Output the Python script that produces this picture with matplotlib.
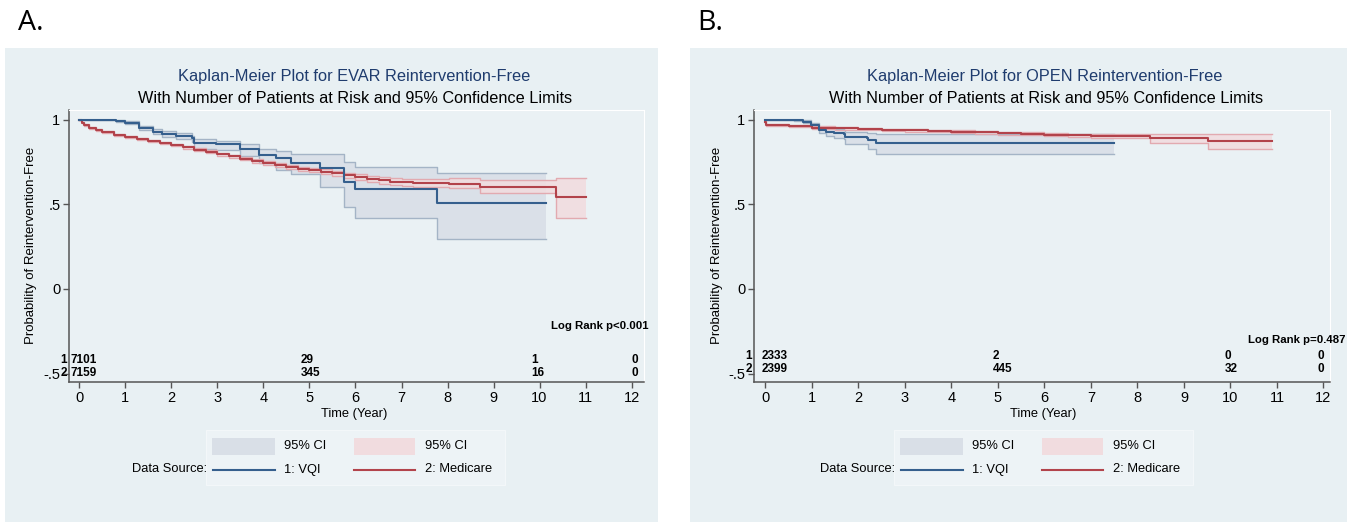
import matplotlib.pyplot as plt
from matplotlib.patches import Rectangle
from matplotlib.lines import Line2D

plt.rcParams['font.family'] = ['Liberation Sans', 'DejaVu Sans']

W, H = 1355, 523

# ---- Panel A: EVAR ----
evar_vqi_t = [0, 0.8, 1.0, 1.3, 1.6, 1.8, 2.1, 2.45, 2.5, 2.97, 3.48, 3.91, 4.28, 4.6, 5.22, 5.76, 5.98, 7.77, 10.15]
evar_vqi_s = [1.0, 0.995, 0.985, 0.951, 0.93, 0.917, 0.905, 0.892, 0.862, 0.857, 0.826, 0.793, 0.773, 0.747, 0.714, 0.635, 0.590, 0.507, 0.507]
evar_vqi_hi = [1.0, 1.0, 0.995, 0.962, 0.945, 0.932, 0.92, 0.905, 0.885, 0.878, 0.855, 0.826, 0.815, 0.80, 0.80, 0.753, 0.724, 0.685, 0.685]
evar_vqi_lo = [1.0, 0.99, 0.975, 0.94, 0.915, 0.90, 0.885, 0.87, 0.826, 0.82, 0.785, 0.745, 0.705, 0.68, 0.605, 0.487, 0.422, 0.296, 0.296]

evar_med_t = [0, 0.05, 0.1, 0.2, 0.35, 0.5, 0.75, 1.0, 1.25, 1.5, 1.75, 2.0, 2.25, 2.5, 2.75, 3.0, 3.25, 3.5,
              3.75, 4.0, 4.25, 4.5, 4.75, 5.0, 5.25, 5.5, 5.75, 6.0, 6.25, 6.5, 6.75, 7.0, 7.25, 8.04, 8.7, 10.36, 11.0]
evar_med_s = [1.0, 0.985, 0.972, 0.955, 0.94, 0.931, 0.912, 0.90, 0.89, 0.877, 0.864, 0.851, 0.838, 0.825, 0.812, 0.798, 0.785, 0.771,
              0.757, 0.745, 0.734, 0.722, 0.711, 0.703, 0.695, 0.685, 0.672, 0.661, 0.652, 0.643, 0.635, 0.632, 0.628, 0.619, 0.605, 0.546, 0.546]
evar_med_hi = [1.0, 0.99, 0.978, 0.961, 0.946, 0.937, 0.918, 0.906, 0.896, 0.884, 0.871, 0.858, 0.845, 0.833, 0.820, 0.807, 0.794, 0.780,
               0.767, 0.755, 0.745, 0.734, 0.723, 0.716, 0.709, 0.700, 0.688, 0.678, 0.670, 0.662, 0.655, 0.653, 0.650, 0.655, 0.646, 0.655, 0.655]
evar_med_lo = [1.0, 0.98, 0.966, 0.949, 0.934, 0.925, 0.906, 0.894, 0.884, 0.870, 0.857, 0.844, 0.831, 0.817, 0.804, 0.789, 0.776, 0.762,
               0.747, 0.735, 0.723, 0.710, 0.699, 0.690, 0.681, 0.670, 0.656, 0.644, 0.634, 0.624, 0.615, 0.611, 0.606, 0.595, 0.566, 0.418, 0.418]

# ---- Panel B: OPEN ----
open_vqi_t = [0, 0.61, 0.8, 0.97, 1.15, 1.3, 1.47, 1.69, 1.72, 2.18, 2.2, 2.37, 7.5]
open_vqi_s = [1.0, 0.998, 0.99, 0.97, 0.941, 0.93, 0.921, 0.915, 0.90, 0.895, 0.882, 0.862, 0.862]
open_vqi_hi = [1.0, 1.0, 0.998, 0.985, 0.96, 0.952, 0.945, 0.94, 0.93, 0.925, 0.92, 0.915, 0.915]
open_vqi_lo = [1.0, 0.995, 0.98, 0.955, 0.92, 0.905, 0.895, 0.888, 0.86, 0.855, 0.827, 0.797, 0.797]

open_med_t = [0, 0.02, 0.15, 0.5, 1.0, 1.5, 2.0, 2.5, 3.0, 3.5, 4.0, 4.5, 5.0, 5.5, 6.0, 6.5, 7.0, 7.47, 8.26, 9.51, 10.9]
open_med_s = [0.99, 0.972, 0.968, 0.963, 0.955, 0.95, 0.945, 0.941, 0.938, 0.934, 0.93, 0.926, 0.922, 0.918, 0.913, 0.909, 0.906, 0.905, 0.892, 0.878, 0.878]
open_med_hi = [0.995, 0.978, 0.974, 0.969, 0.962, 0.957, 0.952, 0.948, 0.945, 0.942, 0.938, 0.934, 0.931, 0.927, 0.922, 0.919, 0.916, 0.915, 0.917, 0.917, 0.917]
open_med_lo = [0.985, 0.966, 0.962, 0.957, 0.948, 0.943, 0.938, 0.934, 0.931, 0.926, 0.922, 0.918, 0.913, 0.909, 0.904, 0.899, 0.895, 0.893, 0.866, 0.827, 0.827]

risk_times = [0, 5, 10, 12]
evar_risk_vqi = [7101, 29, 1, 0]
evar_risk_med = [7159, 345, 16, 0]
open_risk_vqi = [2333, 2, 0, 0]
open_risk_med = [2399, 445, 32, 0]

titles = ["Kaplan-Meier Plot for EVAR Reintervention-Free", "Kaplan-Meier Plot for OPEN Reintervention-Free"]
subtitle = "With Number of Patients at Risk and 95% Confidence Limits"
logranks = ["Log Rank p<0.001", "Log Rank p=0.487"]
letters = ["A.", "B."]

BG = '#e8f0f3'
PLOT_BG = '#eaf1f4'
BLUE = '#355f8d'
BLUE_FILL = '#d9dfe7'
BLUE_EDGE = '#a4b4c6'
RED = '#b2434b'
RED_FILL = '#f1dcdf'
RED_EDGE = '#e2aab0'


def fx(x):
    return x / W


def fy(y):
    return 1 - y / H


fig = plt.figure(figsize=(W / 100, H / 100), dpi=100)
fig.patch.set_facecolor('white')

# per panel layout (pixels)
panels = [
    dict(shift=0, bg=(5.5, 658), ax=(69.3, 644), xlim=(-0.22, 12.27), rows=(-0.42, -0.497), lr=(10.24, -0.22),
         letter_x=18, ylab_x=31.3, title_x=354, risk_dx=(-0.19, -0.19, -0.19, 0.0),
         vqi=(evar_vqi_t, evar_vqi_s, evar_vqi_lo, evar_vqi_hi), med=(evar_med_t, evar_med_s, evar_med_lo, evar_med_hi),
         risk=(evar_risk_vqi, evar_risk_med)),
    dict(shift=688, bg=(689.5, 1347), ax=(754.3, 1330), xlim=(-0.24, 12.14), rows=(-0.395, -0.476), lr=(10.38, -0.30),
         letter_x=697, ylab_x=717, title_x=1045, risk_dx=(-0.09, -0.12, -0.12, -0.12),
         vqi=(open_vqi_t, open_vqi_s, open_vqi_lo, open_vqi_hi), med=(open_med_t, open_med_s, open_med_lo, open_med_hi),
         risk=(open_risk_vqi, open_risk_med)),
]

for i, p in enumerate(panels):
    sh = p['shift']
    b0, b1 = p['bg']
    fig.patches.append(Rectangle((fx(b0), fy(521.5)), fx(b1 - b0), 473.5 / H, transform=fig.transFigure,
                                 facecolor=BG, edgecolor='none', zorder=-5))
    fig.text(fx(p['letter_x']), fy(23), letters[i], fontsize=20.5, family='Open Sans',
             ha='left', va='center')

    a0, a1 = p['ax']
    ax = fig.add_axes([fx(a0), fy(382.3), fx(a1 - a0), (382.3 - 110) / H])
    ax.set_zorder(2)
    ax.set_facecolor(PLOT_BG)
    ax.set_xlim(*p['xlim'])
    ax.set_ylim(-0.552, 1.059)

    # confidence bands
    for (t, s, lo, hi), fc, ec in [(p['vqi'], BLUE_FILL, BLUE_EDGE), (p['med'], RED_FILL, RED_EDGE)]:
        ax.fill_between(t, lo, hi, step='post', facecolor=fc, edgecolor='none', alpha=0.9)
        ax.step(t, lo, where='post', color=ec, lw=1.0)
        ax.step(t, hi, where='post', color=ec, lw=1.0)
    ax.step(p['med'][0], p['med'][1], where='post', color=RED, lw=1.5)
    ax.step(p['vqi'][0], p['vqi'][1], where='post', color=BLUE, lw=1.5)

    for side in ['top', 'right']:
        ax.spines[side].set_color('white')
        ax.spines[side].set_linewidth(0.8)
    for side in ['left', 'bottom']:
        ax.spines[side].set_color('#555555')
        ax.spines[side].set_linewidth(1.1)
    ax.set_xticks(range(0, 13))
    ax.set_yticks([1, 0.5, 0, -0.5])
    ax.set_yticklabels(['1', '.5', '0', '-.5'])
    ax.tick_params(axis='both', length=4, width=1, color='#555555', labelsize=10.5, pad=2.5)

    # risk table
    rows = p['rows']
    for r, (lab, vals) in enumerate(zip(['1', '2'], p['risk'])):
        ax.annotate(lab, xy=(0, rows[r]), xycoords=('axes fraction', 'data'), xytext=(-1.5, 0),
                    textcoords='offset points', ha='right', va='center', fontsize=8.5, fontweight='bold',
                    annotation_clip=False)
        for tm, v, dx in zip(risk_times, vals, p['risk_dx']):
            ax.text(tm + dx, rows[r], str(v), ha='left', va='center', fontsize=8.5, fontweight='bold',
                    clip_on=False)
    ax.text(p['lr'][0], p['lr'][1], logranks[i], ha='left', va='center', fontsize=8.2, fontweight='bold',
            clip_on=False)

    # axis titles and titles
    zero_px = a0 + (0 - p['xlim'][0]) / (p['xlim'][1] - p['xlim'][0]) * (a1 - a0)
    ppy = (a1 - a0) / (p['xlim'][1] - p['xlim'][0])
    fig.text(fx(zero_px + 5.97 * ppy), fy(414), 'Time (Year)', ha='center', va='center', fontsize=9.3)
    fig.text(fx(p['ylab_x']), fy(245), 'Probability of Reintervention-Free', rotation=90,
             ha='center', va='center', fontsize=9.5)
    cx = p['title_x']
    fig.text(fx(cx), fy(76), titles[i], ha='center', va='center', fontsize=11.8, color='#1f3c6e')
    fig.text(fx(cx + 1), fy(98.3), subtitle, ha='center', va='center', fontsize=11.7)

    # legend (Stata style)
    fig.patches.append(Rectangle((fx(205.7 + sh), fy(485)), fx(505 - 205.7), 55 / H, transform=fig.transFigure,
                                 facecolor='#edf3f6', edgecolor='#f3f7f9', lw=0.8, zorder=1))
    fig.patches.append(Rectangle((fx(212 + sh), fy(455)), fx(63), 17.5 / H, transform=fig.transFigure,
                                 facecolor=BLUE_FILL, edgecolor='none', zorder=2))
    fig.patches.append(Rectangle((fx(353.5 + sh), fy(455)), fx(61), 17.5 / H, transform=fig.transFigure,
                                 facecolor=RED_FILL, edgecolor='none', zorder=2))
    fig.add_artist(Line2D([fx(213 + sh), fx(275 + sh)], [fy(469.5)] * 2, color=BLUE, lw=1.5))
    fig.add_artist(Line2D([fx(354 + sh), fx(414.5 + sh)], [fy(469.5)] * 2, color=RED, lw=1.5))
    fig.text(fx(284 + sh), fy(446), '95% CI', ha='left', va='center', fontsize=9.3)
    fig.text(fx(425 + sh), fy(446), '95% CI', ha='left', va='center', fontsize=9.3)
    fig.text(fx(284 + sh), fy(469.5), '1: VQI', ha='left', va='center', fontsize=9.3)
    fig.text(fx(425 + sh), fy(469.5), '2: Medicare', ha='left', va='center', fontsize=9.3)
    fig.text(fx(207 + sh), fy(469.5), 'Data Source:', ha='right', va='center', fontsize=9.3)

fig.savefig('out.png', dpi=100, facecolor='white')
